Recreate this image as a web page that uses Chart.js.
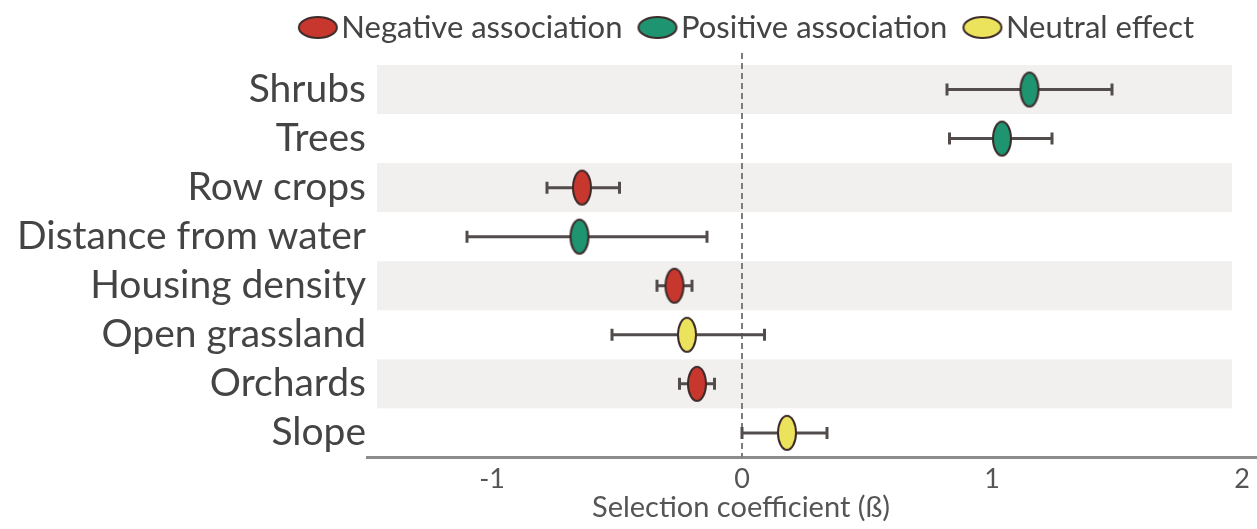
<!DOCTYPE html>
<html>
<head>
<meta charset="utf-8">
<script src="https://cdn.jsdelivr.net/npm/chart.js@4.4.1/dist/chart.umd.min.js"></script>
<style>
  html, body { margin: 0; padding: 0; background: #fff; }
  #wrap { width: 1257px; height: 529px; }
</style>
</head>
<body>
<div id="wrap"><canvas id="coefChart"></canvas></div>
<script>
const categories = ["Shrubs", "Trees", "Row crops", "Distance from water", "Housing density", "Open grassland", "Orchards", "Slope"];
const estimates = [1.15, 1.04, -0.64, -0.65, -0.27, -0.22, -0.18, 0.18];
const lower = [0.82, 0.83, -0.78, -1.10, -0.34, -0.52, -0.25, 0.0];
const upper = [1.48, 1.24, -0.49, -0.14, -0.20, 0.09, -0.11, 0.34];
const effect = ["pos", "pos", "neg", "pos", "neg", "neu", "neg", "neu"];
const xTicks = [-1, 0, 1, 2];

const effectTypes = ["neg", "pos", "neu"];
const effectNames = { neg: "Negative association", pos: "Positive association", neu: "Neutral effect" };
const effectColors = { neg: "#c8372d", pos: "#1e9470", neu: "#ece35c" };
const FONT = "Lato, 'Open Sans', sans-serif";

// 橢圓點的圖片 (padLeft: 左邊透明留白, 用來調整圖例間距)
function ellipse(fill, w, h, padLeft = 0) {
  const c = document.createElement("canvas");
  c.width = w + 4 + padLeft;
  c.height = h + 4;
  const g = c.getContext("2d");
  g.beginPath();
  g.ellipse(padLeft + (w + 4) / 2, c.height / 2, w / 2, h / 2, 0, 0, Math.PI * 2);
  g.fillStyle = fill;
  g.fill();
  g.lineWidth = 2;
  g.strokeStyle = "#3d2b2a";
  g.stroke();
  return c;
}

const datasets = effectTypes.map((t) => ({
  label: effectNames[t],
  data: categories
    .map((c, i) => ({ x: estimates[i], y: c, t: effect[i] }))
    .filter((p) => p.t === t),
  pointStyle: ellipse(effectColors[t], 18, 34),
  legendStyle: ellipse(effectColors[t], 38, 21, 15),
  pointRadius: 10,
  backgroundColor: effectColors[t],
}));

const bgPlugin = {
  id: "bands",
  beforeInit(chart) {
    // 圖例下方多留空間
    if (!chart.legend) return;
    const origFit = chart.legend.fit;
    chart.legend.fit = function () {
      origFit.call(this);
      this.height = 65;
    };
  },
  afterLayout(chart) {
    // 圖例和標題往右移, 置中在 0 附近
    if (chart.legend) chart.legend.left = 232;
    if (chart.titleBlock) chart.titleBlock.left = 225;
  },
  beforeDatasetsDraw(chart) {
    const { ctx, chartArea, scales } = chart;
    const x = scales.x, y = scales.y;
    const half = (y.getPixelForValue(1) - y.getPixelForValue(0)) / 2;
    ctx.save();
    // 灰色底條
    ctx.fillStyle = "#f2f0ef";
    const bx0 = x.getPixelForValue(-1.46), bx1 = x.getPixelForValue(1.96);
    categories.forEach((c, i) => {
      if (i % 2 !== 0) return;
      const yc = y.getPixelForValue(i);
      ctx.fillRect(bx0, yc - half, bx1 - bx0, half * 2);
    });
    // 0 的虛線
    const x0 = x.getPixelForValue(0);
    ctx.strokeStyle = "#7c7c7c";
    ctx.lineWidth = 2;
    ctx.setLineDash([6, 4]);
    ctx.beginPath();
    ctx.moveTo(x0, chartArea.top - 12);
    ctx.lineTo(x0, chartArea.bottom);
    ctx.stroke();
    ctx.setLineDash([]);
    // 誤差線
    ctx.strokeStyle = "#524c4c";
    ctx.lineWidth = 3;
    categories.forEach((c, i) => {
      const yc = y.getPixelForValue(i);
      const l = x.getPixelForValue(lower[i]), u = x.getPixelForValue(upper[i]);
      ctx.beginPath();
      ctx.moveTo(l, yc); ctx.lineTo(u, yc);
      ctx.moveTo(l, yc - 6); ctx.lineTo(l, yc + 6);
      ctx.moveTo(u, yc - 6); ctx.lineTo(u, yc + 6);
      ctx.stroke();
    });
    ctx.restore();
  },
};

new Chart(document.getElementById("coefChart"), {
  type: "scatter",
  data: { labels: categories, datasets },
  options: {
    responsive: true,
    maintainAspectRatio: false,
    animation: false,
    layout: { autoPadding: false, padding: 0 },
    plugins: {
      tooltip: { enabled: false },
      legend: {
        position: "top",
        labels: {
          usePointStyle: true,
          pointStyleWidth: 31,
          padding: 12,
          color: "#444",
          font: { family: FONT, size: 31 },
          generateLabels: (chart) =>
            chart.data.datasets.map((d, i) => ({
              text: d.label,
              pointStyle: d.legendStyle,
              fontColor: "#444",
              hidden: false,
              datasetIndex: i,
              lineWidth: 0,
            })),
        },
      },
      title: {
        display: true,
        position: "bottom",
        text: "Selection coefficient (ß)",
        color: "#555",
        font: { family: FONT, size: 29, weight: "normal" },
        padding: { top: 0, bottom: 4 },
      },
    },
    scales: {
      x: {
        type: "linear",
        min: -1.5,
        max: 2.06,
        afterBuildTicks: (s) => { s.ticks = xTicks.map((v) => ({ value: v })); },
        afterFit: (s) => { s.height = 32.8; },
        grid: { display: false, drawTicks: false },
        border: { color: "#8c8c8c", width: 3 },
        ticks: { color: "#555", font: { family: FONT, size: 27 }, padding: 6 },
      },
      y: {
        type: "category",
        offset: true,
        afterFit: (s) => { s.width = 367; },
        grid: { display: false, drawTicks: false },
        border: { display: false },
        ticks: { color: "#444", font: { family: FONT, size: 39 }, padding: 1, autoSkip: false },
      },
    },
  },
  plugins: [bgPlugin],
});
</script>
</body>
</html>
